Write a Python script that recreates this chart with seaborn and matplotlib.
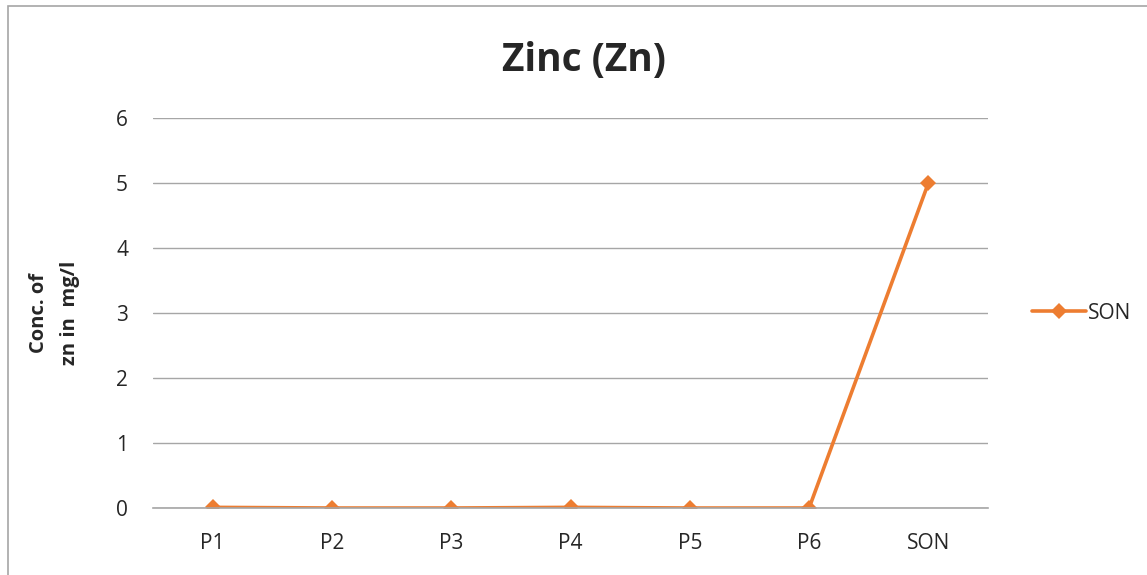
import pandas as pd
import matplotlib.pyplot as plt
import seaborn as sns
from matplotlib.patches import Rectangle

# data
sites = ['P1', 'P2', 'P3', 'P4', 'P5', 'P6', 'SON']
zinc = [0.01, 0.0, 0.0, 0.01, 0.0, 0.0, 5.0]

df = pd.DataFrame({'site': sites, 'zn': zinc, 'series': 'SON'})

sns.set_style('white')
plt.rcParams['font.family'] = ['Open Sans', 'DejaVu Sans']

fig = plt.figure(figsize=(11.47, 5.75), dpi=100)
ax = fig.add_axes([0.1334, 0.1165, 0.728, 0.6783])

sns.lineplot(data=df, x='site', y='zn', hue='series', palette=['#ED7D31'],
             marker='D', markersize=8, markeredgewidth=0, linewidth=2.6,
             sort=False, ax=ax)

ax.set_xlim(-0.5, 6.5)
ax.set_ylim(0, 6)
ax.set_yticks(range(0, 7))
ax.grid(axis='y', color='#A6A6A6', linewidth=1)
ax.set_axisbelow(True)
for s in ['top', 'right', 'left']:
    ax.spines[s].set_visible(False)
ax.spines['bottom'].set_color('#A6A6A6')
ax.spines['bottom'].set_linewidth(1.2)
ax.tick_params(axis='both', length=0, labelsize=15)
ax.tick_params(axis='x', pad=18)
ax.tick_params(axis='y', pad=18)

ax.set_xlabel('')
ax.set_ylabel('Conc. of\nzn in  mg/l', fontsize=14.5, fontweight='bold',
              labelpad=26, linespacing=1.7)
ax.set_title('Zinc (Zn)', fontsize=28, fontweight='bold', pad=34, x=0.516)

leg = ax.legend(loc='center left', bbox_to_anchor=(1.03, 0.5), frameon=False,
                fontsize=15, handlelength=2.6, handletextpad=0.1)

# outer chart border
fig.patches.append(Rectangle((8 / 1147, -0.01), 1.2, 1 - 6 / 575 + 0.01,
                             transform=fig.transFigure, fill=False,
                             edgecolor='#A6A6A6', linewidth=1.2))

plt.savefig('out.png', dpi=100)
